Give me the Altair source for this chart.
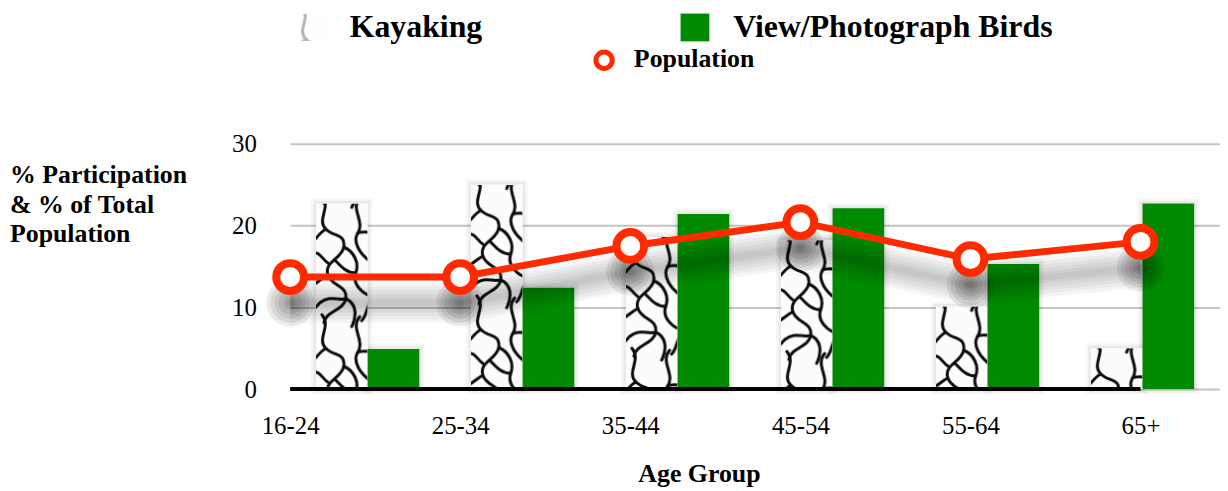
import altair as alt
import pandas as pd
from urllib.parse import quote

# ---------------- data ----------------
ages = ["16-24", "25-34", "35-44", "45-54", "55-64", "65+"]
kayaking = [22.7, 25.0, 18.6, 18.2, 10.1, 5.0]
birds = [4.9, 12.4, 21.4, 22.1, 15.3, 22.7]
population = [13.7, 13.7, 17.5, 20.4, 15.9, 18.0]
series = ["Kayaking", "View/Photograph Birds"]
pop_label = "Population"
y_title = ["% Participation", "& % of Total", "Population"]
x_title = "Age Group"
y_ticks = [0, 10, 20, 30]

FONT = "Liberation Serif"
RED = "#ff2a00"
GREEN = "#008a00"

# ---------------- texture for the kayaking bars ----------------
tex_paths = [
    "M6,-8 C16,4 0,16 10,26 C18,34 30,30 28,44 C26,56 8,58 12,72 C16,84 32,82 30,96 C28,108 10,108 8,120",
    "M44,-6 C34,6 50,18 42,30 C36,40 46,52 54,58",
    "M28,44 C38,48 44,60 40,70 C36,82 48,92 58,94",
    "M30,96 C40,100 42,112 36,124",
    "M-4,50 C4,48 6,56 12,60",
    "M12,72 C4,76 -2,84 -6,82",
    "M42,30 C50,26 56,32 60,28",
    "M10,26 C2,30 0,38 -6,40",
    "M40,70 C30,70 24,62 20,58",
    "M30,96 C20,98 14,92 4,100 C0,104 -2,108 -6,106",
    "M58,94 C50,104 52,112 46,118",
]
g = "".join(f'<path d="{p}"/>' for p in tex_paths)
tile = (f'<g>{g}</g><g transform="translate(0,120)">{g}</g>'
        f'<g transform="translate(0,-120)">{g}</g>')
tex_svg = (
    '<svg xmlns="http://www.w3.org/2000/svg" width="100%" height="100%">'
    '<defs><filter id="b"><feGaussianBlur stdDeviation="0.7"/></filter>'
    '<pattern id="t" width="56" height="120" patternUnits="userSpaceOnUse">'
    '<rect width="56" height="120" fill="#fcfcfc"/>'
    f'<g fill="none" stroke="#111" stroke-width="3" stroke-linecap="round" filter="url(#b)">{tile}</g>'
    '</pattern></defs><rect width="100%" height="100%" fill="url(#t)"/></svg>'
)
tex_url = "data:image/svg+xml;charset=utf-8," + quote(tex_svg)

# ---------------- frames ----------------
bars_df = pd.DataFrame({
    "age": ages * 2,
    "series": [series[0]] * len(ages) + [series[1]] * len(ages),
    "value": kayaking + birds,
})
kay_df = bars_df[bars_df["series"] == series[0]]
bird_df = bars_df[bars_df["series"] == series[1]]
pop_df = pd.DataFrame({"age": ages, "value": population})

# ---------------- encodings ----------------
y_axis = alt.Axis(values=y_ticks, title=None, domain=False, ticks=False,
                  labelFont=FONT, labelFontSize=25, labelColor="black",
                  labelPadding=34, grid=True, gridColor="#c4c4c4",
                  gridWidth=2, gridOpacity=1)
y_enc = alt.Y("value:Q", scale=alt.Scale(domain=[0, 30], nice=False), axis=y_axis)

x_band = alt.X("age:N", scale=alt.Scale(domain=ages, paddingInner=1/3, paddingOuter=1/6),
               axis=None)
x_off = alt.XOffset("series:N", scale=alt.Scale(domain=series, paddingInner=0, paddingOuter=0))

x_pt = alt.X("age:N",
             scale=alt.Scale(type="point", domain=ages, padding=0.2336, align=0),
             axis=alt.Axis(title=None, domain=False, ticks=False, grid=False,
                           labelFont=FONT, labelFontSize=25, labelColor="black",
                           labelPadding=37, labelAngle=0, labelAlign="center"))

# ---------------- bar layers ----------------
bar_shadow1 = alt.Chart(bars_df).mark_bar(
    fill="black", fillOpacity=0.0, stroke="black", strokeOpacity=0.035,
    strokeWidth=10, xOffset=3
).encode(x=x_band, xOffset=x_off, y=y_enc)
bar_shadow2 = alt.Chart(bars_df).mark_bar(
    fill="black", fillOpacity=0.0, stroke="black", strokeOpacity=0.05,
    strokeWidth=5, xOffset=3
).encode(x=x_band, xOffset=x_off, y=y_enc)

kay_base = alt.Chart(kay_df).mark_bar(color="#fcfcfc").encode(
    x=x_band, xOffset=x_off, y=y_enc)
kay_img = alt.Chart(kay_df).mark_image(aspect=False).encode(
    x=x_band, xOffset=x_off, y=y_enc, y2=alt.Y2(datum=0),
    url=alt.value(tex_url))
bird_bars = alt.Chart(bird_df).mark_bar(color=GREEN).encode(
    x=x_band, xOffset=x_off, y=y_enc)

bars = alt.layer(bar_shadow1, bar_shadow2, kay_base, kay_img, bird_bars)

# ---------------- line layers ----------------
line_base = alt.Chart(pop_df)
shadow_layers = []
for w in [40, 33, 26, 19, 12, 6]:
    shadow_layers.append(line_base.mark_line(color="black", strokeWidth=w,
                                             opacity=0.04, yOffset=26)
                         .encode(x=x_pt, y=y_enc))
for s in [2300, 1600, 1000, 550, 220, 60]:
    shadow_layers.append(line_base.mark_circle(color="black", size=s,
                                               opacity=0.08, yOffset=26)
                         .encode(x=x_pt, y=y_enc))

baseline = alt.Chart(pd.DataFrame({"v": [0]})).mark_rule(
    color="black", strokeWidth=4
).encode(x=alt.X(datum=ages[0]), x2=alt.X2(datum=ages[-1]), y=alt.Y(datum=0))

pop_line = line_base.mark_line(color=RED, strokeWidth=7).encode(x=x_pt, y=y_enc)
pop_pts = line_base.mark_point(filled=True, fill="white", stroke=RED,
                               strokeWidth=8, size=784, opacity=1).encode(x=x_pt, y=y_enc)

lines = alt.layer(baseline, *shadow_layers, pop_line, pop_pts)

# ---------------- legend & titles ----------------
one = pd.DataFrame({"k": [0]})
leg_kay_img = alt.Chart(one).mark_image(aspect=False, opacity=0.3).encode(
    x=alt.value(6), x2=alt.value(36), y=alt.value(-131), y2=alt.value(-103),
    url=alt.value(tex_url))
leg_green = alt.Chart(one).mark_rect(color=GREEN).encode(
    x=alt.value(393), x2=alt.value(422), y=alt.value(-131), y2=alt.value(-103))
leg_pop = alt.Chart(one).mark_point(filled=True, fill="white", stroke=RED,
                                    strokeWidth=5, size=272, opacity=1).encode(
    x=alt.value(316), y=alt.value(-84))

def label(txt, x, y, size, align="left"):
    return alt.Chart(pd.DataFrame({"t": [txt]})).mark_text(
        font=FONT, fontSize=size, fontWeight="bold", color="black",
        align=align, baseline="alphabetic", lineBreak="\n", lineHeight=29.5
    ).encode(text="t:N", x=alt.value(x), y=alt.value(y))

leg_t1 = label(series[0], 60, -107, 32)
leg_t2 = label(series[1], 446, -107, 32)
leg_t3 = label(pop_label, 346, -77, 26)
ytitle = label("\n".join(y_title), -282, 40, 26)
xtitle = label(x_title, 412, 341, 26, align="center")

chart = alt.layer(
    bars, lines, leg_kay_img, leg_green, leg_pop, leg_t1, leg_t2, leg_t3, ytitle, xtitle
).resolve_scale(x="independent").properties(
    width=936, height=247,
    autosize=alt.AutoSizeParams(type="none"),
    padding={"left": 284, "top": 135, "right": 0, "bottom": 100},
    background="white",
).configure_view(strokeWidth=0)

chart.save("out.html", embed_options={"renderer": "svg", "actions": False})
